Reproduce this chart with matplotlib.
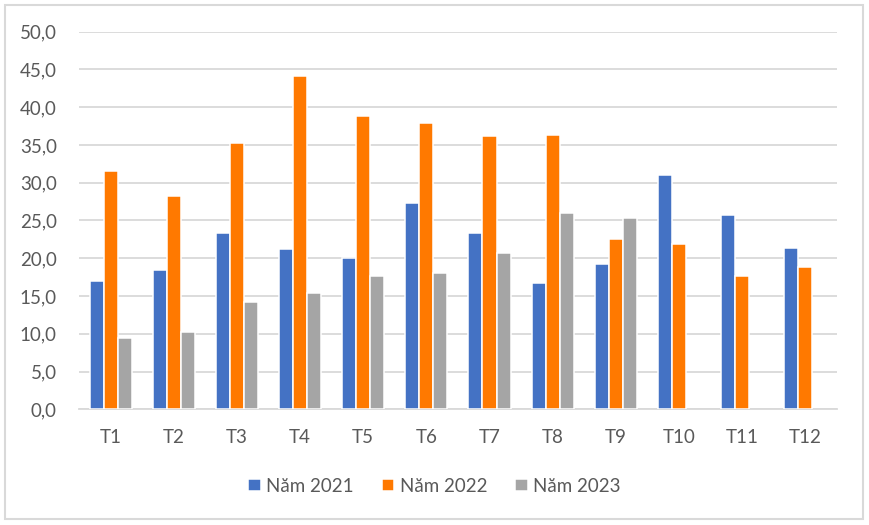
import numpy as np
import matplotlib
matplotlib.use("Agg")
import matplotlib.pyplot as plt
from matplotlib.patches import Rectangle

# du lieu doc tu bieu do
thang = ["T1", "T2", "T3", "T4", "T5", "T6", "T7", "T8", "T9", "T10", "T11", "T12"]
nam_2021 = [17.0, 18.5, 23.3, 21.2, 20.0, 27.3, 23.3, 16.7, 19.3, 31.0, 25.7, 21.3]
nam_2022 = [31.5, 28.3, 35.3, 44.1, 38.8, 37.9, 36.2, 36.3, 22.6, 21.9, 17.6, 18.9]
nam_2023 = [9.4, 10.3, 14.2, 15.4, 17.6, 18.0, 20.7, 26.0, 25.3, np.nan, np.nan, np.nan]
ten_chuoi = ["Năm 2021", "Năm 2022", "Năm 2023"]
mau = ["#4472C4", "#FF7900", "#A5A5A5"]

plt.rcParams['font.family'] = ['Lato', 'DejaVu Sans']
chu = "#595959"
luoi = "#D9D9D9"

fig = plt.figure(figsize=(8.69, 5.25), dpi=100)
ax = fig.add_axes([0.0909, 0.2204, 0.8721, 0.7192])

x = np.arange(len(thang))
w = 0.222
for i, (vals, ten, c) in enumerate(zip([nam_2021, nam_2022, nam_2023], ten_chuoi, mau)):
    ax.bar(x + (i - 1) * w, vals, w, color=c, edgecolor="white", linewidth=1.1,
           label=ten, zorder=3)

ax.set_xlim(-0.5, len(thang) - 0.5)
ax.set_ylim(0, 50)
ax.set_yticks(np.arange(0, 51, 5))
ax.set_yticklabels([f"{v:.1f}".replace(".", ",") for v in np.arange(0, 51, 5)])
ax.set_xticks(x)
ax.set_xticklabels(thang)
ax.grid(axis="y", color=luoi, linewidth=1.3, zorder=0)
for s in ["top", "right", "left"]:
    ax.spines[s].set_visible(False)
ax.spines["bottom"].set_color(luoi)
ax.spines["bottom"].set_linewidth(1.3)
ax.tick_params(axis="both", length=0, colors=chu, labelsize=13.5)
ax.tick_params(axis="y", pad=16)
ax.tick_params(axis="x", pad=14)

fig.legend(loc="center", bbox_to_anchor=(0.5, 1 - 486 / 525), ncol=3, frameon=False,
           fontsize=13.5, labelcolor=chu, handlelength=0.65, handleheight=0.65,
           handletextpad=0.3, columnspacing=1.5)

fig.patches.append(Rectangle((5 / 869, 6 / 525), 858 / 869, 514 / 525, transform=fig.transFigure,
                             fill=False, edgecolor=luoi, linewidth=1.5))

fig.savefig("out.png", dpi=100)
